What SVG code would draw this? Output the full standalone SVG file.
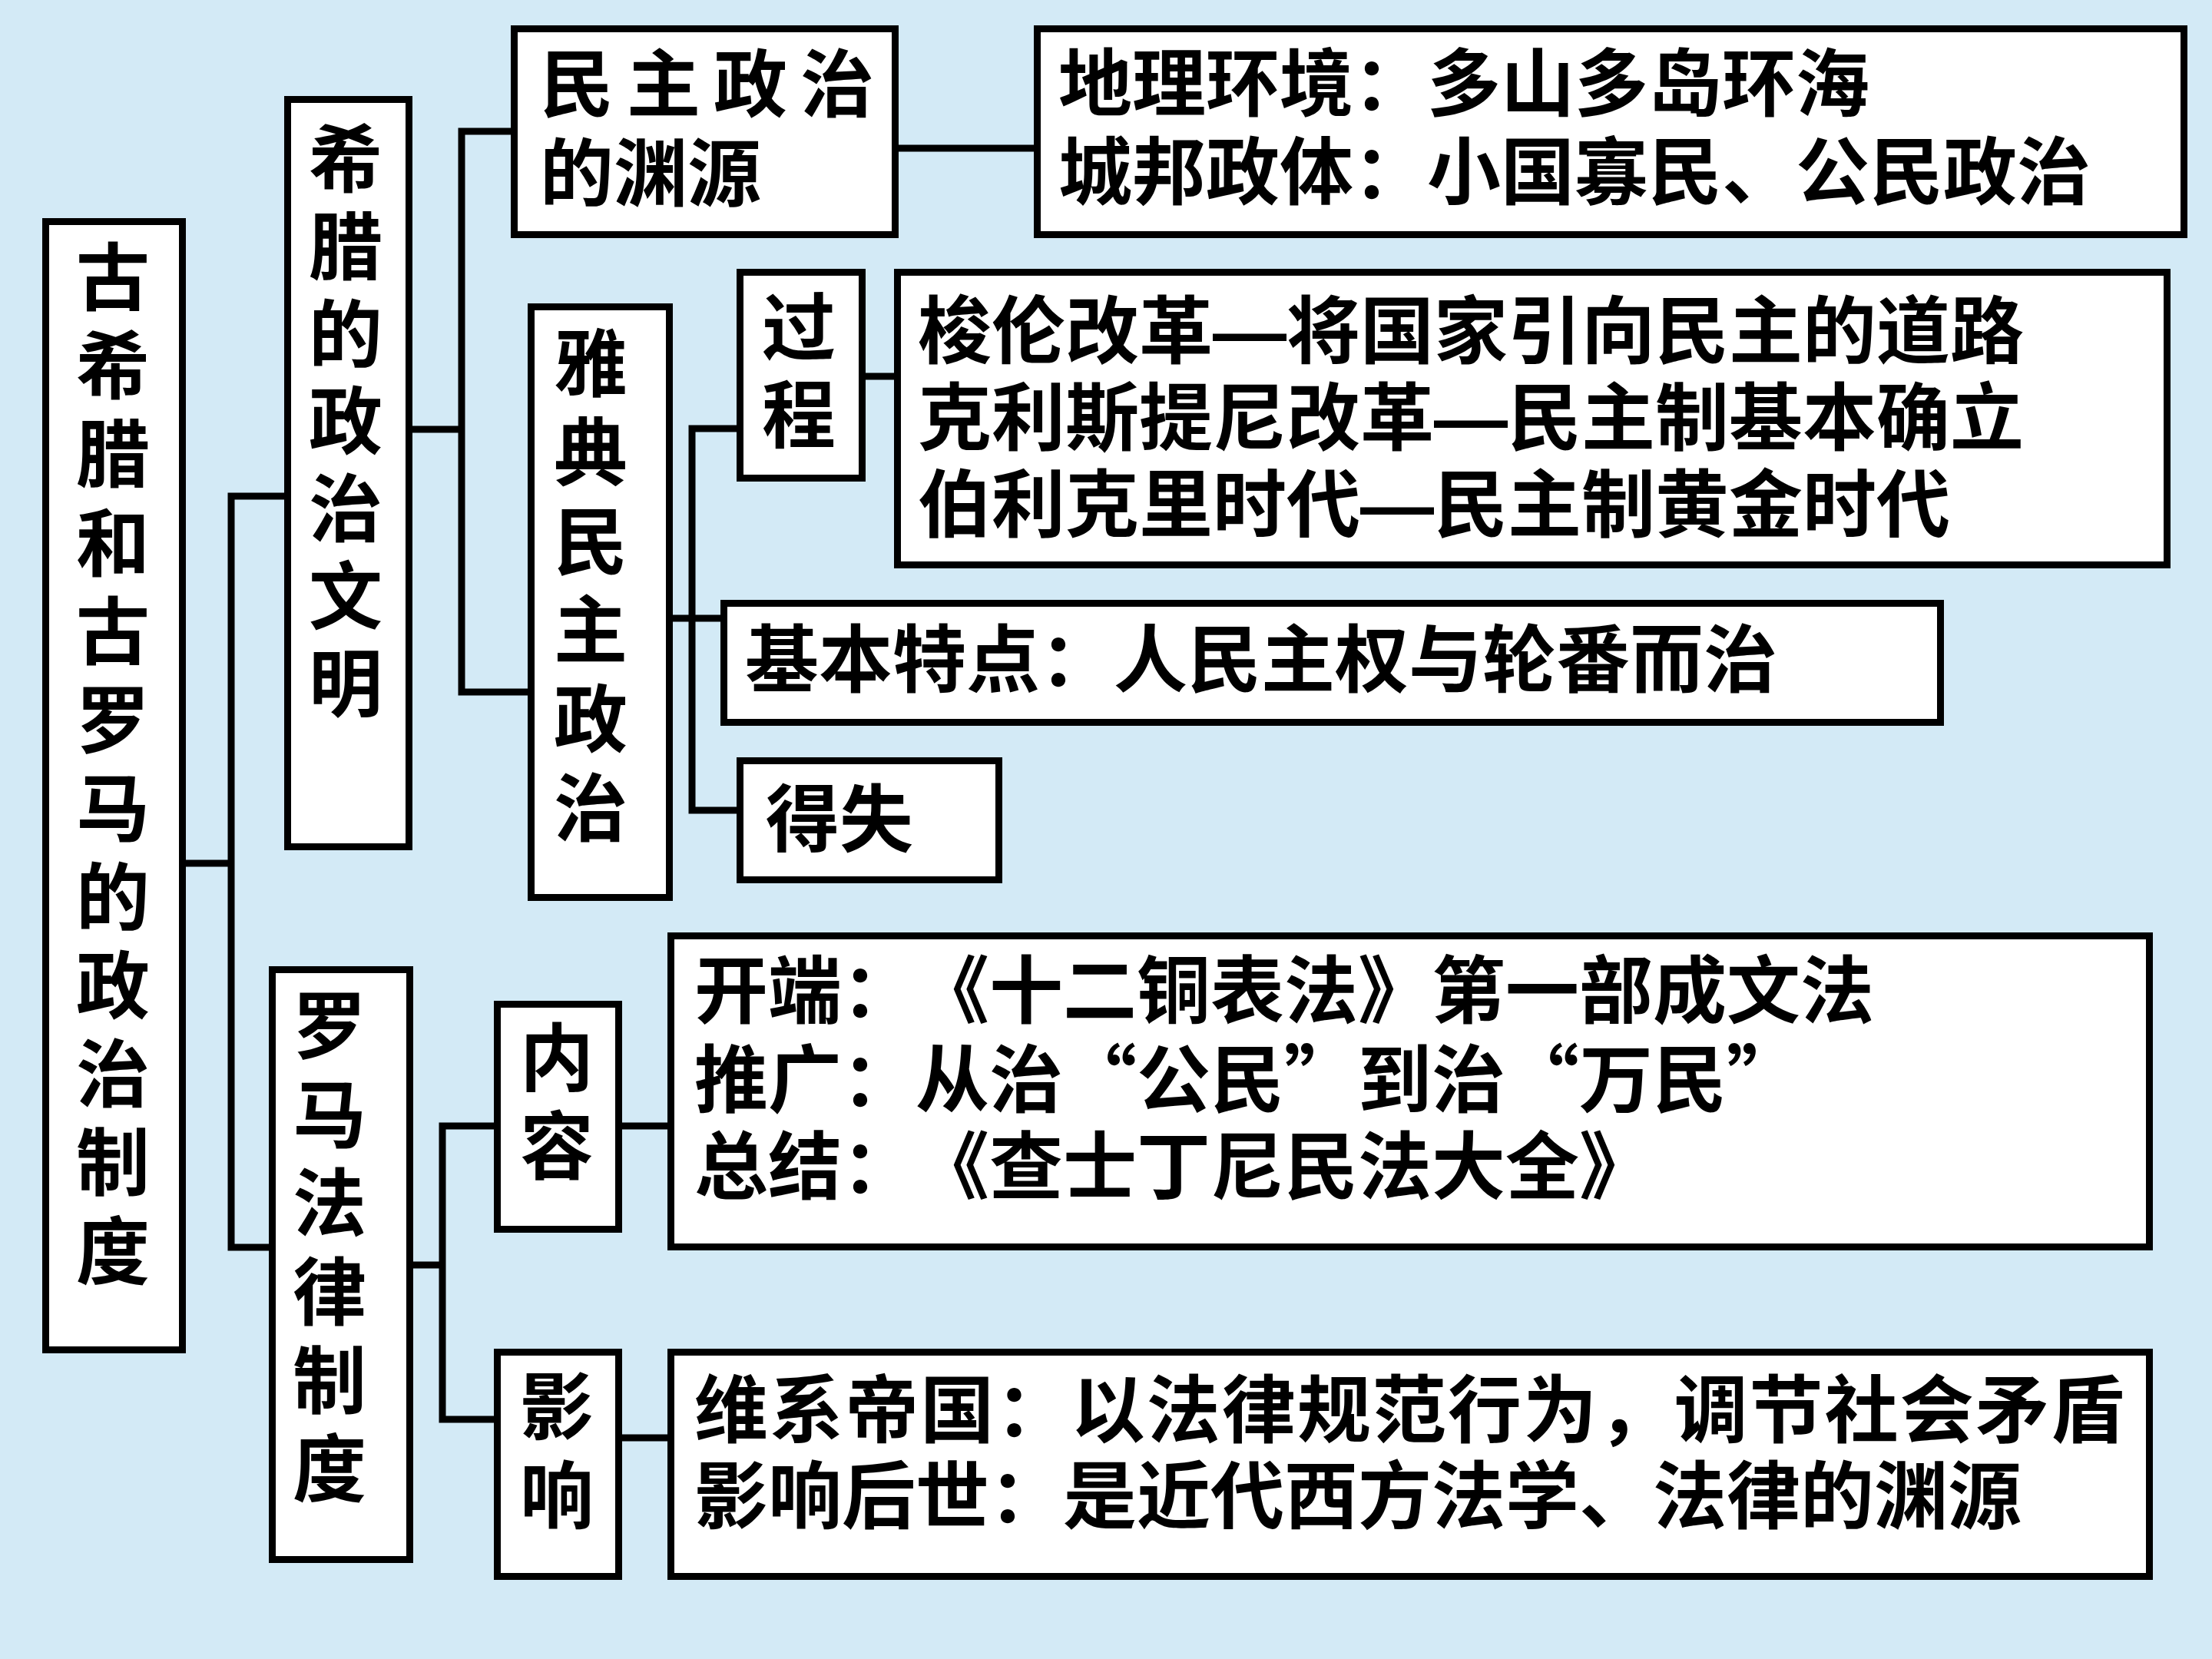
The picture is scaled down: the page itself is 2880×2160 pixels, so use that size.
<svg xmlns="http://www.w3.org/2000/svg" width="2880" height="2160" viewBox="0 0 2880 2160">
<style>
.box{fill:#ffffff;stroke:#000000;stroke-width:9}
.conn{fill:none;stroke:#000000;stroke-width:9;stroke-linejoin:miter;stroke-linecap:butt}
.t{font-family:"Noto Sans CJK SC","Noto Sans CJK TC",sans-serif;font-weight:700;font-size:96px;fill:#000000;text-spacing-trim:space-all}
.v{text-anchor:middle}
.dash{font-family:"Liberation Sans",sans-serif}
</style>
<rect x="0" y="0" width="2880" height="2160" fill="#d3eaf6"/>
<g id="connectors">
<path class="conn" d="M242,1124 H301"/>
<path class="conn" d="M370,646 H301 V1624 H350"/>
<path class="conn" d="M537,559 H601"/>
<path class="conn" d="M665,171 H601 V901 H687"/>
<path class="conn" d="M1170,193 H1346"/>
<path class="conn" d="M959,558 H901 V1055 H959"/>
<path class="conn" d="M876,805 H938"/>
<path class="conn" d="M1127,490 H1164"/>
<path class="conn" d="M538,1647 H576"/>
<path class="conn" d="M643,1466 H576 V1848 H643"/>
<path class="conn" d="M810,1466 H869"/>
<path class="conn" d="M810,1872 H869"/>
</g>
<g id="root">
<rect class="box" x="59.5" y="288.5" width="178" height="1469"/>
<text class="t v"><tspan x="147" y="396">古</tspan><tspan x="147" y="511">希</tspan><tspan x="147" y="626">腊</tspan><tspan x="147" y="742">和</tspan><tspan x="147" y="857">古</tspan><tspan x="147" y="972">罗</tspan><tspan x="147" y="1087">马</tspan><tspan x="147" y="1203">的</tspan><tspan x="147" y="1318">政</tspan><tspan x="147" y="1433">治</tspan><tspan x="147" y="1548">制</tspan><tspan x="147" y="1664">度</tspan></text>
</g>
<g id="greece">
<rect class="box" x="374.5" y="129.5" width="158" height="973"/>
<text class="t v"><tspan x="450" y="242">希</tspan><tspan x="450" y="356">腊</tspan><tspan x="450" y="470">的</tspan><tspan x="450" y="583">政</tspan><tspan x="450" y="697">治</tspan><tspan x="450" y="811">文</tspan><tspan x="450" y="925">明</tspan></text>
</g>
<g id="origin">
<rect class="box" x="669.5" y="37.5" width="496" height="268"/>
<text class="t" x="703" y="144" textLength="435" lengthAdjust="spacing">民 主 政 治</text>
<text class="t" x="703" y="260">的渊源</text>
</g>
<g id="geo">
<rect class="box" x="1350.5" y="37.5" width="1493" height="268"/>
<text class="t" x="1378" y="143">地理环境：多山多岛环海</text>
<text class="t" x="1378" y="258">城邦政体：小国寡民、公民政治</text>
</g>
<g id="athens">
<rect class="box" x="691.5" y="399.5" width="180" height="769"/>
<text class="t v"><tspan x="769" y="508">雅</tspan><tspan x="769" y="624">典</tspan><tspan x="769" y="740">民</tspan><tspan x="769" y="855">主</tspan><tspan x="769" y="971">政</tspan><tspan x="769" y="1087">治</tspan></text>
</g>
<g id="process">
<rect class="box" x="963.5" y="354.5" width="159" height="268"/>
<text class="t v"><tspan x="1040" y="461">过</tspan><tspan x="1040" y="575">程</tspan></text>
</g>
<g id="reforms">
<rect class="box" x="1168.5" y="354.5" width="1653" height="381"/>
<text class="t" x="1195" y="465" textLength="1440" lengthAdjust="spacing">梭伦改革<tspan class="dash">—</tspan>将国家引向民主的道路</text>
<text class="t" x="1195" y="578" textLength="1440" lengthAdjust="spacing">克利斯提尼改革<tspan class="dash">—</tspan>民主制基本确立</text>
<text class="t" x="1195" y="691" textLength="1344" lengthAdjust="spacing">伯利克里时代<tspan class="dash">—</tspan>民主制黄金时代</text>
</g>
<g id="features">
<rect class="box" x="942.5" y="785.5" width="1584" height="155"/>
<text class="t" x="970" y="893">基本特点：人民主权与轮番而治</text>
</g>
<g id="gains">
<rect class="box" x="963.5" y="990.5" width="337" height="155"/>
<text class="t" x="997" y="1101">得失</text>
</g>
<g id="rome">
<rect class="box" x="354.5" y="1262.5" width="179" height="768"/>
<text class="t v"><tspan x="429" y="1370">罗</tspan><tspan x="429" y="1486">马</tspan><tspan x="429" y="1601">法</tspan><tspan x="429" y="1717">律</tspan><tspan x="429" y="1832">制</tspan><tspan x="429" y="1947">度</tspan></text>
</g>
<g id="content">
<rect class="box" x="647.5" y="1307.5" width="158" height="293"/>
<text class="t v"><tspan x="725" y="1412">内</tspan><tspan x="725" y="1527">容</tspan></text>
</g>
<g id="law">
<rect class="box" x="873.5" y="1218.5" width="1925" height="405"/>
<text class="t" x="904" y="1324" textLength="1536" lengthAdjust="spacing">开端：《十二铜表法》第一部成文法</text>
<text class="t" x="904" y="1440" textLength="1440" lengthAdjust="spacing">推广：从治“公民”到治“万民”</text>
<text class="t" x="904" y="1553" textLength="1248" lengthAdjust="spacing">总结：《查士丁尼民法大全》</text>
</g>
<g id="influence">
<rect class="box" x="647.5" y="1760.5" width="158" height="292"/>
<text class="t v"><tspan x="725" y="1866">影</tspan><tspan x="725" y="1982">响</tspan></text>
</g>
<g id="impact">
<rect class="box" x="873.5" y="1760.5" width="1925" height="292"/>
<text class="t" x="904" y="1870" textLength="1862" lengthAdjust="spacing">维系帝国：以法律规范行为，调节社会矛盾</text>
<text class="t" x="904" y="1982" textLength="1728" lengthAdjust="spacing">影响后世：是近代西方法学、法律的渊源</text>
</g>
</svg>
